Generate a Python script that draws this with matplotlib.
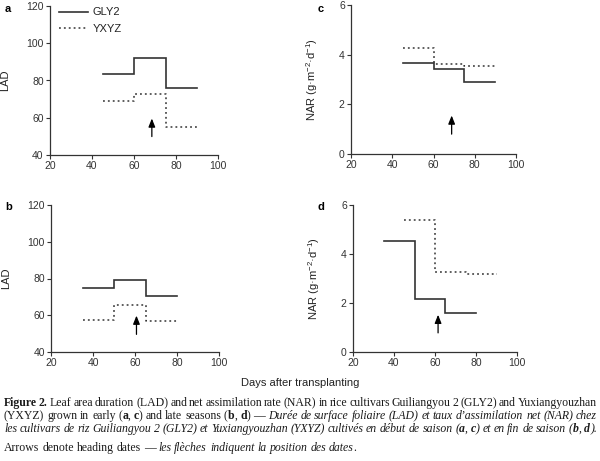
import matplotlib
matplotlib.use("Agg")
import matplotlib.pyplot as plt

# step edges (days after transplanting) and level values
EARLY_DAYS = [45, 60, 75, 90]
LATE_DAYS = [35, 50, 65, 80]
LATE_DAYS_YXYZ_NAR = [45, 60, 75, 90]

LAD_EARLY_GLY2 = [83.5, 92, 76]
LAD_EARLY_YXYZ = [69, 73, 55]
LAD_LATE_GLY2 = [75, 79, 70.5]
LAD_LATE_YXYZ = [57.3, 65.5, 56.7]

NAR_EARLY_GLY2 = [3.68, 3.43, 2.91]
NAR_EARLY_YXYZ = [4.25, 3.63, 3.55]
NAR_LATE_GLY2 = [4.53, 2.18, 1.61]
NAR_LATE_YXYZ = [5.4, 3.28, 3.18]

# heading date arrows: (x, y_tail, y_head)
ARROW_A = (68.5, 49.9, 59.6)
ARROW_B = (60.7, 49.6, 59.8)
ARROW_C = (68.8, 0.8, 1.55)
ARROW_D = (61.5, 0.78, 1.52)

LINE_COL = "#333333"
SANS = "Liberation Sans"
SERIF = "Liberation Serif"

W, H = 600, 461

plt.rcParams["mathtext.fontset"] = "custom"
plt.rcParams["mathtext.rm"] = SANS
plt.rcParams["mathtext.it"] = SANS + ":italic"
plt.rcParams["mathtext.bf"] = SANS + ":bold"


def steps(edges, vals):
    xs, ys = [], []
    for i, v in enumerate(vals):
        xs += [edges[i], edges[i + 1]]
        ys += [v, v]
    return xs, ys


def make_axes(fig, left, top, right, bottom):
    ax = fig.add_axes([left / W, 1 - bottom / H, (right - left) / W, (bottom - top) / H])
    for s in ("top", "right"):
        ax.spines[s].set_visible(False)
    for s in ("left", "bottom"):
        ax.spines[s].set_linewidth(0.9)
        ax.spines[s].set_color("#333333")
    ax.tick_params(direction="out", length=3, width=0.8, pad=1.5,
                   labelsize=7.5, colors="#333333")
    ax.set_xlim(20, 100)
    ax.set_xticks([20, 40, 60, 80, 100])
    return ax


def draw_panel(ax, days_g, g, days_y, y, arrow):
    xs, ys = steps(days_g, g)
    ax.plot(xs, ys, color=LINE_COL, lw=1.2, solid_joinstyle="miter", label="GLY2")
    xs, ys = steps(days_y, y)
    ax.plot(xs, ys, color=LINE_COL, lw=1.1, linestyle=(0, (1.2, 2.0)), label="YXYZ")
    x0, yt, yh = arrow
    ax.annotate("", xy=(x0, yh), xytext=(x0, yt),
                arrowprops=dict(arrowstyle="-|>,head_length=0.5,head_width=0.2",
                                color="black", lw=0.9, shrinkA=0, shrinkB=0))


def tokenize(segs):
    words = [[]]
    for text, style in segs:
        parts = text.split(" ")
        for k, p in enumerate(parts):
            if k > 0:
                words.append([])
            if p:
                words[-1].append((p, style))
    return [w for w in words if w]


STYLES = {
    "n": dict(weight="normal", style="normal"),
    "b": dict(weight="bold", style="normal"),
    "i": dict(weight="normal", style="italic"),
    "bi": dict(weight="bold", style="italic"),
}

CAPTION = [
    [("Figure 2.", "b"),
     (" Leaf area duration (LAD) and net assimilation rate (NAR) in rice cultivars "
      "Guiliangyou 2 (GLY2) and Yuxiangyouzhan", "n")],
    [("(YXYZ) grown in early (", "n"), ("a", "b"), (", ", "n"), ("c", "b"),
     (") and late seasons (", "n"), ("b", "b"), (", ", "n"), ("d", "b"), (") \u2014 ", "n"),
     ("Dur\u00e9e de surface foliaire (LAD) et taux d\u2019assimilation net (NAR) chez", "i")],
    [("les cultivars de riz Guiliangyou 2 (GLY2) et Yuxiangyouzhan (YXYZ) cultiv\u00e9s "
      "en d\u00e9but de saison (", "i"), ("a", "bi"), (", ", "i"), ("c", "bi"),
     (") et en fin de saison (", "i"), ("b", "bi"), (", ", "i"), ("d", "bi"), (").", "i")],
    [("Arrows denote heading dates \u2014 ", "n"),
     ("les fl\u00e8ches indiquent la position des dates", "i"), (".", "n")],
]
BASELINES = [406, 419, 432, 451]
JUSTIFY = [True, True, True, False]


def measure(fig, rend, piece, style, size):
    t = fig.text(0, 0, piece, family=SERIF, fontsize=size, **STYLES[style])
    w = t.get_window_extent(rend).width
    t.remove()
    return w


def draw_caption(fig):
    rend = fig.canvas.get_renderer()
    x_left, x_right = 4, 597
    size = 9.0
    nat = []
    for segs in CAPTION[:3]:
        words = tokenize(segs)
        tot = sum(measure(fig, rend, p, s, size) for w in words for p, s in w)
        nat.append(tot + 0.18 * size * 100 / 72 * (len(words) - 1))
    size *= min(1.0, (x_right - x_left) / max(nat))
    space = 0.25 * size * 100 / 72
    for segs, base, just in zip(CAPTION, BASELINES, JUSTIFY):
        words = tokenize(segs)
        widths = [[measure(fig, rend, p, s, size) for p, s in w] for w in words]
        total = sum(sum(w) for w in widths)
        gap = (x_right - x_left - total) / (len(words) - 1) if just else space
        x = x_left
        for w, ws in zip(words, widths):
            for (p, s), pw in zip(w, ws):
                fig.text(x / W, 1 - base / H, p, family=SERIF, fontsize=size,
                         va="baseline", ha="left", color="#1a1a1a", **STYLES[s])
                x += pw
            x += gap


def main():
    fig = plt.figure(figsize=(6, 4.61), dpi=100)

    ax_a = make_axes(fig, 50, 6, 218, 155)
    ax_c = make_axes(fig, 351, 5, 516, 154)
    ax_b = make_axes(fig, 51, 205, 219, 352)
    ax_d = make_axes(fig, 353, 205, 517, 352)

    draw_panel(ax_a, EARLY_DAYS, LAD_EARLY_GLY2, EARLY_DAYS, LAD_EARLY_YXYZ, ARROW_A)
    draw_panel(ax_c, EARLY_DAYS, NAR_EARLY_GLY2, EARLY_DAYS, NAR_EARLY_YXYZ, ARROW_C)
    draw_panel(ax_b, LATE_DAYS, LAD_LATE_GLY2, LATE_DAYS, LAD_LATE_YXYZ, ARROW_B)
    draw_panel(ax_d, LATE_DAYS, NAR_LATE_GLY2, LATE_DAYS_YXYZ_NAR, NAR_LATE_YXYZ, ARROW_D)

    for ax in (ax_a, ax_b):
        ax.set_ylim(40, 120)
        ax.set_yticks([40, 60, 80, 100, 120])
        ax.set_ylabel("LAD", family=SANS, fontsize=8, color="#222222")
        ax.yaxis.set_label_coords(-0.235, 0.5)
    for ax in (ax_c, ax_d):
        ax.set_ylim(0, 6)
        ax.set_yticks([0, 2, 4, 6])
        ax.set_ylabel("NAR (g\u00b7m$^{-2}$\u00b7d$^{-1}$)", family=SANS,
                      fontsize=8, color="#222222")
        ax.yaxis.set_label_coords(-0.19, 0.5)
    for ax in (ax_a, ax_b, ax_c, ax_d):
        for lab in ax.get_xticklabels() + ax.get_yticklabels():
            lab.set_family(SANS)

    leg = ax_a.legend(loc="upper left", bbox_to_anchor=(0.03, 1.02), frameon=False,
                      handlelength=2.6, handletextpad=0.4, labelspacing=0.55,
                      borderaxespad=0, prop=dict(family=SANS, size=8))
    for t in leg.get_texts():
        t.set_color("#222222")

    for lab, x, y in (("a", 5, 9), ("c", 318, 9), ("b", 5, 207), ("d", 318, 207)):
        fig.text(x / W, 1 - y / H, lab, family=SANS, fontsize=8, weight="bold",
                 va="center", ha="left")

    fig.text(300 / W, 1 - 383 / H, "Days after transplanting", family=SANS,
             fontsize=8, ha="center", va="center", color="#222222")

    draw_caption(fig)

    fig.savefig("out.png", dpi=100)
    plt.close(fig)


if __name__ == "__main__":
    main()
